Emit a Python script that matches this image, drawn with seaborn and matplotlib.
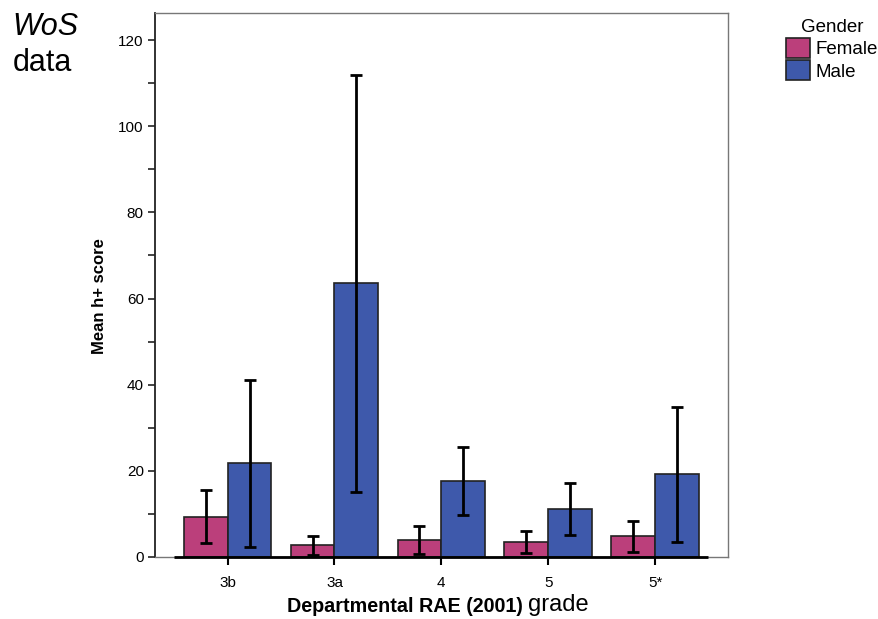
import numpy as np
import pandas as pd
import matplotlib
matplotlib.use("Agg")
import matplotlib.pyplot as plt
import seaborn as sns
from matplotlib.patches import Patch

grades = ["3b", "3a", "4", "5", "5*"]
female_mean = [9.3, 2.7, 4.0, 3.4, 4.8]
female_lo = [3.3, 0.5, 0.7, 1.0, 1.2]
female_hi = [15.6, 4.9, 7.2, 6.0, 8.4]
male_mean = [21.8, 63.5, 17.6, 11.1, 19.2]
male_lo = [2.3, 15.1, 9.7, 5.2, 3.4]
male_hi = [41.1, 111.8, 25.5, 17.2, 34.9]

colors = {"Female": "#BB3F7B", "Male": "#3E59AB"}


def main():
    sns.set_style("white")
    plt.rcParams["font.family"] = ["Liberation Sans", "DejaVu Sans"]
    plt.rcParams["text.color"] = "black"
    plt.rcParams["axes.labelcolor"] = "black"
    plt.rcParams["xtick.color"] = "black"
    plt.rcParams["ytick.color"] = "black"

    df = pd.DataFrame({
        "grade": grades * 2,
        "Gender": ["Female"] * 5 + ["Male"] * 5,
        "h": female_mean + male_mean,
    })
    lows = {"Female": female_lo, "Male": male_lo}
    highs = {"Female": female_hi, "Male": male_hi}
    means = {"Female": female_mean, "Male": male_mean}

    fig = plt.figure(figsize=(8.79, 6.19), dpi=100)
    ax = fig.add_axes([0.1763, 0.1002, 0.6516, 0.8788])

    sns.barplot(data=df, x="grade", y="h", hue="Gender", order=grades,
                hue_order=["Female", "Male"], palette=colors, width=0.82,
                errorbar=None, edgecolor="#222222", linewidth=1.2,
                saturation=1, ax=ax, legend=False)

    for cont, g in zip(ax.containers, ["Female", "Male"]):
        xs = [p.get_x() + p.get_width() / 2 for p in cont.patches]
        m = np.array(means[g])
        yerr = [m - np.array(lows[g]), np.array(highs[g]) - m]
        ax.errorbar(xs, m, yerr=yerr, fmt="none", ecolor="black",
                    elinewidth=2, capsize=4.5, capthick=2, zorder=5)

    ax.set_xlim(-0.68, 4.68)
    ax.set_ylim(0, 126.3)
    ax.set_yticks(np.arange(0, 121, 10))
    ax.set_yticklabels([str(v) if v % 20 == 0 else "" for v in range(0, 121, 10)])

    for s in ["top", "right", "bottom"]:
        ax.spines[s].set_color("#777777")
        ax.spines[s].set_linewidth(1.0)
    ax.spines["left"].set_color("#222222")
    ax.spines["left"].set_linewidth(1.3)
    ax.hlines(0, -0.5, 4.5, color="black", lw=2, zorder=6, clip_on=False)

    ax.tick_params(axis="y", left=True, direction="out", length=5, width=1.2,
                   color="#222222", labelsize=11, pad=3)
    ax.tick_params(axis="x", bottom=True, direction="out", length=6, width=1.5,
                   color="black", labelsize=11, pad=8)

    ax.set_xlabel("")
    ax.set_ylabel("Mean h+ score", fontsize=12, fontweight="bold")
    ax.yaxis.set_label_coords(-0.084, 0.48)

    t1 = fig.text(0.3265, 0.0113, "Departmental RAE (2001)", fontsize=14.2,
                  fontweight="bold", va="baseline", ha="left")
    ax.annotate("grade", xy=(1, 0), xycoords=t1, xytext=(4, 0),
                textcoords="offset points", fontsize=17,
                va="bottom", ha="left", annotation_clip=False)

    fig.text(0.014, 0.943, "WoS", fontsize=22, style="italic", va="baseline")
    fig.text(0.014, 0.886, "data", fontsize=22, va="baseline")

    handles = [Patch(facecolor=colors[g], edgecolor="#222222", lw=1.2) for g in ["Female", "Male"]]
    fig.legend(handles, ["Female", "Male"], title="Gender", loc="upper left",
               bbox_to_anchor=(0.879, 0.99), frameon=False, fontsize=13.5,
               title_fontsize=13.5, handlelength=1.3, handleheight=1.25,
               handletextpad=0.3, labelspacing=0.1, borderpad=0.2)

    fig.savefig("out.png", dpi=100)


if __name__ == "__main__":
    main()
